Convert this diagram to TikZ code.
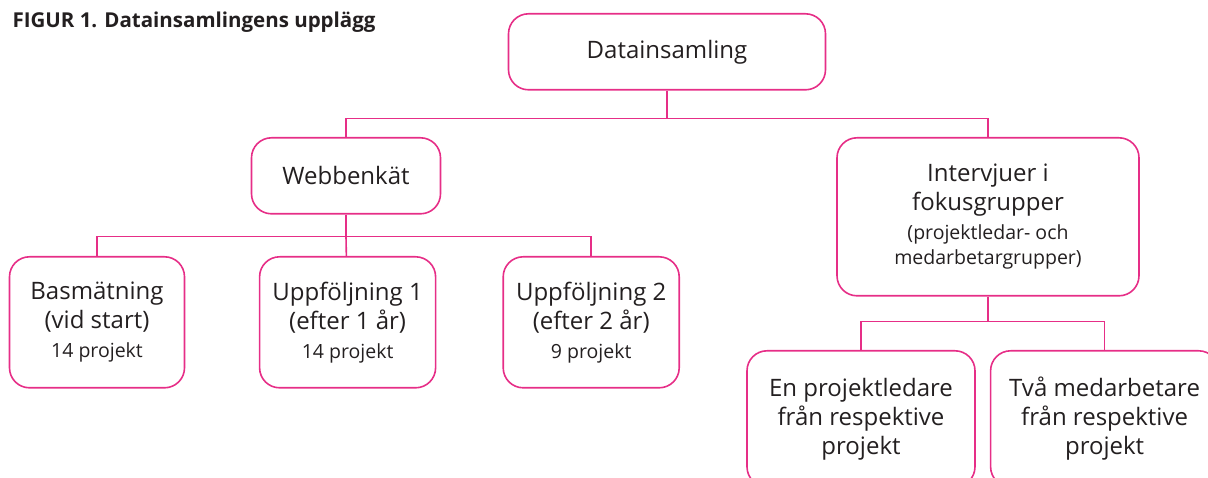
\documentclass[tikz,border=0pt]{standalone}
\usepackage{fontspec}
\setmainfont{Open Sans}
\usetikzlibrary{positioning}
\definecolor{rosa}{HTML}{E62E87}
\definecolor{ink}{HTML}{231F20}
\newcommand{\smalltxt}{\fontsize{19.5}{31}\selectfont}

\begin{document}
\begin{tikzpicture}[
    x=1pt, y=-1pt,
    node distance=70pt,
    box/.style={draw=rosa, line width=1.6pt, rounded corners=20pt, anchor=north, align=center, text=ink, inner sep=0pt, font=\fontsize{24}{29}\selectfont},
    link/.style={draw=rosa, line width=1.6pt}
]
\useasboundingbox (0,0) rectangle (1208,478);

% Title
\node[anchor=base west, text=ink, font=\bfseries\fontsize{20.5}{24}\selectfont] (title) at (9,28) {FIGUR 1. Datainsamlingens upplägg};

% Top level
\node[box, minimum width=317pt, minimum height=76pt] (root) at (667,13) {Datainsamling};

% Second level
\node[box, minimum width=189pt, minimum height=76pt] (web) at (346,137) {Webbenkät};
\node[box, minimum width=302pt, minimum height=158pt] (intv) at (988,137) {Intervjuer i\\fokusgrupper\\{\smalltxt (projektledar- och}\\[-4pt]{\smalltxt medarbetargrupper)}};

% Survey rounds
\node[box, minimum width=175pt, minimum height=131pt] (bas) at (97,256) {Basmätning\\(vid start)\\{\smalltxt 14 projekt}};
\node[box, minimum width=176pt, minimum height=131pt, right=73.5pt of bas] (upp1) {Uppföljning 1\\(efter 1 år)\\{\smalltxt 14 projekt}};
\node[box, minimum width=176pt, minimum height=131pt, right=66pt of upp1] (upp2) {Uppföljning 2\\(efter 2 år)\\{\smalltxt 9 projekt}};

% Focus groups
\node[box, minimum width=228pt, minimum height=136pt] (led) at (861,350) {En projektledare\\från respektive\\projekt};
\node[box, minimum width=228pt, minimum height=136pt, right=14pt of led] (med) {Två medarbetare\\från respektive\\projekt};

% Branch points
\coordinate[below=28pt of root] (bus0);
\coordinate[below=22pt of web] (bus1);
\coordinate[below=25pt of intv] (bus2);

% Tree lines
\draw[link] (root) -- (bus0);
\draw[link] (web) |- (bus0) -| (intv);
\draw[link] (web) -- (bus1);
\draw[link] (bas) |- (bus1) -| (upp2);
\draw[link] (bus1) -- (upp1);
\draw[link] (intv) -- (bus2);
\draw[link] (led) |- (bus2) -| (med);

\end{tikzpicture}
\end{document}
